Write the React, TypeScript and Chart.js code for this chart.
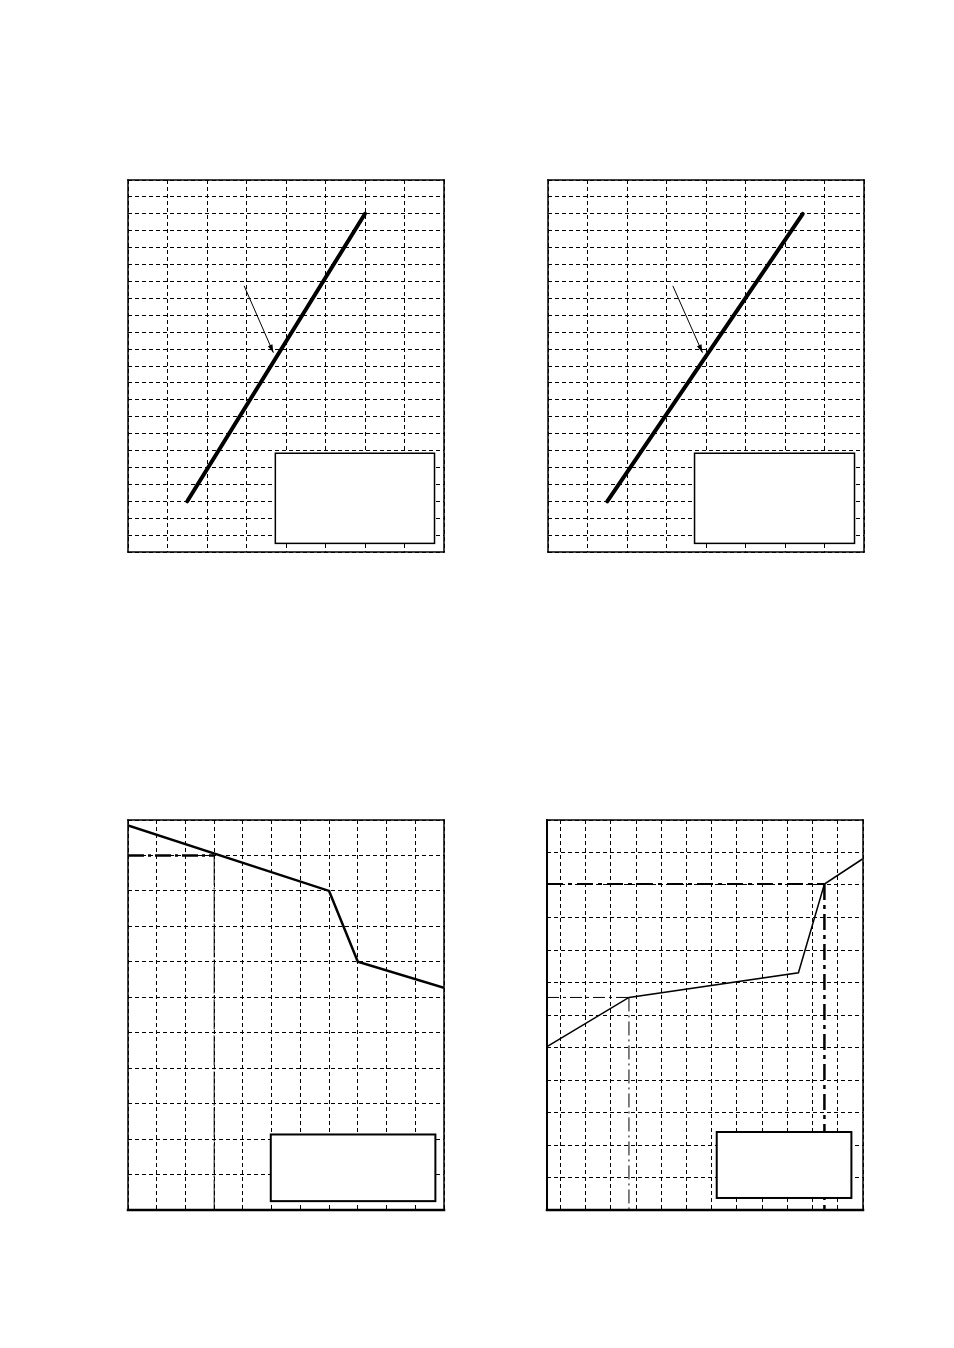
import { useEffect, useRef } from "react";
import { Chart, registerables } from "chart.js";

Chart.register(...registerables);

// axis ranges [min, max], one grid line per unit
const upperXRange = [0, 8];
const upperYRange = [0, 22];
const lowerLeftXRange = [0, 11];
const lowerLeftYRange = [0, 11];
const lowerRightXRange = [-0.53, 12];
const lowerRightYRange = [0, 12];

// upper panels: one straight characteristic each
const upperLeftX = [1.5, 6];
const upperLeftY = [3, 20];
const upperRightX = [1.5, 6.45];
const upperRightY = [3, 20];

// pointer arrows, tail -> head
const upperLeftArrowX = [2.94, 3.68];
const upperLeftArrowY = [15.74, 11.79];
const upperRightArrowX = [3.16, 3.91];
const upperRightArrowY = [15.74, 11.79];

// lower left: falling curve and its read-off point
const lowerLeftX = [0, 7, 8, 11];
const lowerLeftY = [10.85, 9, 7, 6.27];
const lowerLeftHorizX = [0, 3];
const lowerLeftHorizY = [10, 10];
const lowerLeftVertX = [3, 3];
const lowerLeftVertY = [10, 0];

// lower right: rising curve and two read-off points
const lowerRightX = [-0.53, 2.72, 9.44, 10.47, 11.98];
const lowerRightY = [5.03, 6.54, 7.3, 10.03, 10.8];
const lowerRightHorizAX = [-0.53, 2.72];
const lowerRightHorizAY = [6.54, 6.54];
const lowerRightVertAX = [2.72, 2.72];
const lowerRightVertAY = [6.54, 0];
const lowerRightHorizBX = [-0.53, 10.47];
const lowerRightHorizBY = [10.03, 10.03];
const lowerRightVertBX = [10.47, 10.47];
const lowerRightVertBY = [10.03, 0];

// empty legend boxes [x1, y1, x2, y2]
const upperLeftLegend = [3.73, 0.51, 7.76, 5.84];
const upperRightLegend = [3.71, 0.51, 7.76, 5.84];
const lowerLeftLegend = [4.97, 0.25, 10.7, 2.13];
const lowerRightLegend = [6.2, 0.37, 11.54, 2.4];

type Series = {
  xs: number[];
  ys: number[];
  width: number;
  dash?: number[];
  cap?: CanvasLineCap;
};

type PanelProps = {
  left: number;
  top: number;
  width: number;
  height: number;
  xRange: number[];
  yRange: number[];
  series: Series[];
  legend: number[];
  legendWidth: number;
  arrowX?: number[];
  arrowY?: number[];
  frame: number[]; // top, right, bottom, left
};

const PAD = 6;

function Panel(p: PanelProps) {
  const ref = useRef<HTMLCanvasElement>(null);

  useEffect(() => {
    if (!ref.current) return;

    const overlay = {
      id: "overlay",
      afterDatasetsDraw(chart: Chart) {
        const { ctx } = chart;
        const sx = chart.scales.x;
        const sy = chart.scales.y;
        ctx.save();

        if (p.arrowX && p.arrowY) {
          const x1 = sx.getPixelForValue(p.arrowX[0]);
          const y1 = sy.getPixelForValue(p.arrowY[0]);
          const x2 = sx.getPixelForValue(p.arrowX[1]);
          const y2 = sy.getPixelForValue(p.arrowY[1]);
          const a = Math.atan2(y2 - y1, x2 - x1);
          ctx.strokeStyle = "#000";
          ctx.fillStyle = "#000";
          ctx.lineWidth = 1;
          ctx.beginPath();
          ctx.moveTo(x1, y1);
          ctx.lineTo(x2, y2);
          ctx.stroke();
          ctx.beginPath();
          ctx.moveTo(x2, y2);
          ctx.lineTo(x2 - 8 * Math.cos(a) + 2.5 * Math.sin(a), y2 - 8 * Math.sin(a) - 2.5 * Math.cos(a));
          ctx.lineTo(x2 - 8 * Math.cos(a) - 2.5 * Math.sin(a), y2 - 8 * Math.sin(a) + 2.5 * Math.cos(a));
          ctx.closePath();
          ctx.fill();
        }

        const lx1 = sx.getPixelForValue(p.legend[0]);
        const ly1 = sy.getPixelForValue(p.legend[1]);
        const lx2 = sx.getPixelForValue(p.legend[2]);
        const ly2 = sy.getPixelForValue(p.legend[3]);
        ctx.fillStyle = "#fff";
        ctx.fillRect(lx1, ly2, lx2 - lx1, ly1 - ly2);
        ctx.strokeStyle = "#000";
        ctx.lineWidth = p.legendWidth;
        ctx.strokeRect(lx1, ly2, lx2 - lx1, ly1 - ly2);
        ctx.restore();
      },
      afterDraw(chart: Chart) {
        const { ctx, chartArea: c } = chart;
        const [t, r, b, l] = p.frame;
        ctx.save();
        ctx.strokeStyle = "#000";
        ctx.lineCap = "square";
        const side = (w: number, x1: number, y1: number, x2: number, y2: number) => {
          ctx.lineWidth = w;
          ctx.beginPath();
          ctx.moveTo(x1, y1);
          ctx.lineTo(x2, y2);
          ctx.stroke();
        };
        side(t, c.left, c.top, c.right, c.top);
        side(r, c.right, c.top, c.right, c.bottom);
        side(b, c.left, c.bottom, c.right, c.bottom);
        side(l, c.left, c.top, c.left, c.bottom);
        ctx.restore();
      },
    };

    const axis = (range: number[]) => ({
      type: "linear" as const,
      min: range[0],
      max: range[1],
      ticks: { display: false, stepSize: 1, includeBounds: false },
      grid: { color: "#000", lineWidth: 1, drawTicks: false },
      border: { display: false, dash: [4, 3] },
    });

    const chart = new Chart(ref.current, {
      type: "line",
      data: {
        datasets: p.series.map((s) => ({
          data: s.xs.map((x, i) => ({ x, y: s.ys[i] })),
          borderColor: "#000",
          borderWidth: s.width,
          borderDash: s.dash ?? [],
          borderCapStyle: s.cap ?? "butt",
          borderJoinStyle: "miter" as const,
          pointRadius: 0,
          tension: 0,
          fill: false,
        })),
      },
      options: {
        responsive: false,
        animation: false,
        events: [],
        layout: { padding: PAD },
        plugins: { legend: { display: false }, tooltip: { enabled: false } },
        scales: { x: axis(p.xRange), y: axis(p.yRange) },
      },
      plugins: [overlay],
    });

    return () => chart.destroy();
  }, []);

  return (
    <div style={{ position: "absolute", left: p.left - PAD, top: p.top - PAD }}>
      <canvas ref={ref} width={p.width + 2 * PAD} height={p.height + 2 * PAD} />
    </div>
  );
}

export default function App() {
  return (
    <div style={{ position: "absolute", left: 0, top: 0, width: 954, height: 1348, background: "#fff" }}>
      <Panel
        left={128}
        top={180}
        width={316}
        height={372}
        xRange={upperXRange}
        yRange={upperYRange}
        series={[{ xs: upperLeftX, ys: upperLeftY, width: 4, cap: "round" }]}
        arrowX={upperLeftArrowX}
        arrowY={upperLeftArrowY}
        legend={upperLeftLegend}
        legendWidth={1.5}
        frame={[1.5, 1.5, 1.5, 1.5]}
      />
      <Panel
        left={548}
        top={180}
        width={316}
        height={372}
        xRange={upperXRange}
        yRange={upperYRange}
        series={[{ xs: upperRightX, ys: upperRightY, width: 4, cap: "round" }]}
        arrowX={upperRightArrowX}
        arrowY={upperRightArrowY}
        legend={upperRightLegend}
        legendWidth={1.5}
        frame={[1.5, 1.5, 1.5, 1.5]}
      />
      <Panel
        left={128}
        top={820}
        width={316}
        height={390}
        xRange={lowerLeftXRange}
        yRange={lowerLeftYRange}
        series={[
          { xs: lowerLeftX, ys: lowerLeftY, width: 2.5 },
          { xs: lowerLeftHorizX, ys: lowerLeftHorizY, width: 2.5, dash: [16, 4, 3, 4] },
          { xs: lowerLeftVertX, ys: lowerLeftVertY, width: 1, dash: [30, 2, 2, 2] },
        ]}
        legend={lowerLeftLegend}
        legendWidth={2}
        frame={[1.5, 1.5, 2.5, 1.5]}
      />
      <Panel
        left={547}
        top={820}
        width={316}
        height={390}
        xRange={lowerRightXRange}
        yRange={lowerRightYRange}
        series={[
          { xs: lowerRightX, ys: lowerRightY, width: 1.5 },
          { xs: lowerRightHorizAX, ys: lowerRightHorizAY, width: 1, dash: [12, 4, 3, 4] },
          { xs: lowerRightVertAX, ys: lowerRightVertAY, width: 1, dash: [14, 4, 2, 4] },
          { xs: lowerRightHorizBX, ys: lowerRightHorizBY, width: 2, dash: [16, 5, 4, 5] },
          { xs: lowerRightVertBX, ys: lowerRightVertBY, width: 2.5, dash: [16, 5, 4, 5] },
        ]}
        legend={lowerRightLegend}
        legendWidth={2}
        frame={[1.5, 1.5, 2.5, 2]}
      />
    </div>
  );
}
